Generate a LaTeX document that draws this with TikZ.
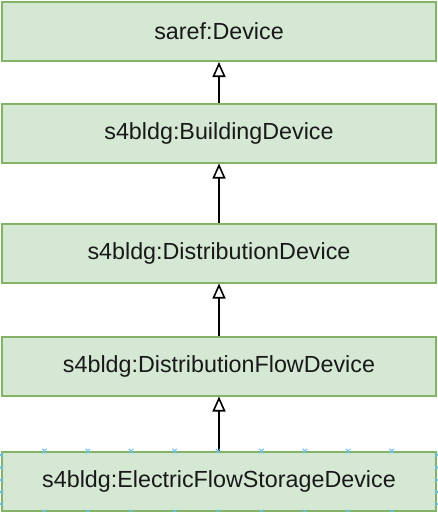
\documentclass[tikz,border=0pt]{standalone}
\usepackage{fontspec}
\setmainfont{Liberation Sans}
\usetikzlibrary{arrows.meta,calc}
\definecolor{boxfill}{HTML}{D5E8D4}
\definecolor{boxline}{HTML}{82B366}
\definecolor{handle}{HTML}{6CC3E8}
\begin{document}
\begin{tikzpicture}[x=1pt,y=-1pt,
  cls/.style={draw=boxline,fill=boxfill,line width=2pt,minimum width=434pt,minimum height=59pt,inner sep=0pt,font=\fontsize{23.3}{26}\selectfont,text=black!90},
  inh/.style={line width=1.8pt,-{Triangle[open,length=15pt,width=13pt,line width=1.6pt,fill=white]}},
  hx/.style={draw=handle,line width=1pt}]
\useasboundingbox (0,0) rectangle (438,512);
\node[cls] (a) at (219,31.5) {saref:Device};
\node[cls] (b) at (219,133) {s4bldg:BuildingDevice};
\node[cls] (c) at (219,253) {s4bldg:DistributionDevice};
\node[cls] (d) at (219,366) {s4bldg:DistributionFlowDevice};
\node[cls] (e) at (219,481.5) {s4bldg:ElectricFlowStorageDevice};
\draw[inh] (b) -- (a);
\draw[inh] (c) -- (b);
\draw[inh] (d) -- (c);
\draw[inh] (e) -- (d);
\foreach \k in {1,...,9}{
  \draw[hx] ($(e.north west)+(43.4*\k,0)$) +(-2.2,-2.2) -- +(2.2,2.2) +(-2.2,2.2) -- +(2.2,-2.2);
  \draw[hx] ($(e.south west)+(43.4*\k,0)$) +(-2.2,-2.2) -- +(2.2,2.2) +(-2.2,2.2) -- +(2.2,-2.2);
}
\foreach \yy in {4,16.5,29,41,53}{
  \draw[hx] ($(e.north west)+(0,\yy)$) +(-2.2,-2.2) -- +(2.2,2.2) +(-2.2,2.2) -- +(2.2,-2.2);
  \draw[hx] ($(e.north east)+(0,\yy)$) +(-2.2,-2.2) -- +(2.2,2.2) +(-2.2,2.2) -- +(2.2,-2.2);
}
\end{tikzpicture}
\end{document}
